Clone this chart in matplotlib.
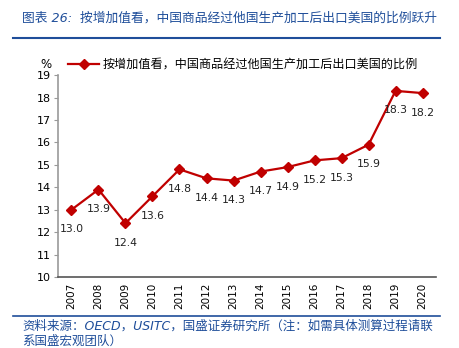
import matplotlib.pyplot as plt
import numpy as np

plt.rcParams['font.family'] = ['DejaVu Sans', 'Noto Sans CJK SC']

# dados
anos = ['2007', '2008', '2009', '2010', '2011', '2012', '2013',
        '2014', '2015', '2016', '2017', '2018', '2019', '2020']
proporcao = [13.0, 13.9, 12.4, 13.6, 14.8, 14.4, 14.3,
             14.7, 14.9, 15.2, 15.3, 15.9, 18.3, 18.2]
rotulos_y = [10, 11, 12, 13, 14, 15, 16, 17, 18, 19]

titulo = '图表 26:  按增加值看，中国商品经过他国生产加工后出口美国的比例跃升'
serie = '按增加值看，中国商品经过他国生产加工后出口美国的比例'
fonte1 = '资料来源：OECD，USITC，国盛证券研究所（注：如需具体测算过程请联'
fonte2 = '系国盛宏观团队）'

azul = '#1f4e9a'
vermelho = '#c00000'

fig = plt.figure(figsize=(4.6, 3.48), dpi=100)
ax = fig.add_axes([0.126, 0.204, 0.822, 0.580])

x = np.arange(len(anos))
linha, = ax.plot(x, proporcao, color=vermelho, marker='D', markersize=5.5,
                 linewidth=1.6, label=serie)
for xi, v in zip(x, proporcao):
    ax.annotate(f'{v:.1f}', (xi, v), xytext=(0, -14), textcoords='offset points',
                ha='center', va='center', fontsize=7.8, color='#222222')

ax.set_xlim(-0.5, len(anos) - 0.5)
ax.set_ylim(10, 19)
ax.set_yticks(rotulos_y)
ax.tick_params(axis='y', labelsize=8, length=3, color='#999999', pad=2)
ax.set_xticks(x)
ax.set_xticklabels(anos, rotation=90, fontsize=7.5)
ax.tick_params(axis='x', length=0, pad=4)
for s in ['top', 'right']:
    ax.spines[s].set_visible(False)
ax.spines['left'].set_color('#999999')
ax.spines['bottom'].set_color('#555555')
ax.spines['left'].set_linewidth(1.2)
ax.spines['bottom'].set_linewidth(1.2)

# legenda e unidade
fig.text(40 / 460, 1 - 65 / 348, '%', fontsize=8.5, ha='left', va='center')
fig.legend(handles=[linha], loc='center left', bbox_to_anchor=(68 / 460, 1 - 65 / 348),
           frameon=False, fontsize=8.7, handlelength=2.6, handletextpad=0.3,
           borderaxespad=0, borderpad=0)

# título e fonte
fig.text(22 / 460, 1 - 18 / 348, titulo, fontsize=9.2, color=azul, ha='left', va='center',
         style='italic')
fig.add_artist(plt.Line2D([13 / 460, 440 / 460], [1 - 38 / 348, 1 - 38 / 348],
                          color=azul, linewidth=1.5))
fig.add_artist(plt.Line2D([13 / 460, 440 / 460], [1 - 316 / 348, 1 - 316 / 348],
                          color=azul, linewidth=1.2))
fig.text(22 / 460, 1 - 326 / 348, fonte1, fontsize=9, color=azul, ha='left', va='center',
         style='italic')
fig.text(22 / 460, 1 - 341 / 348, fonte2, fontsize=9, color=azul, ha='left', va='center',
         style='italic')

plt.savefig('out.png', dpi=100)
